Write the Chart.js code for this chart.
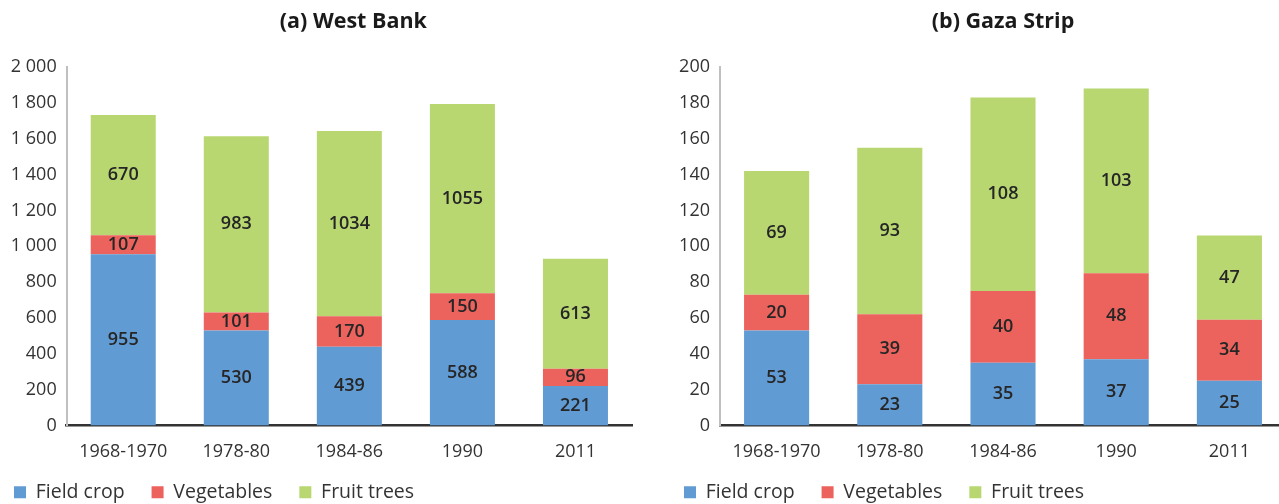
<!DOCTYPE html>
<html>
<head>
<meta charset="utf-8">
<script src="https://cdn.jsdelivr.net/npm/chart.js@4.4.1/dist/chart.umd.min.js"></script>
<style>
  html, body { margin: 0; padding: 0; background: #fff; }
  body { width: 1279px; height: 504px; overflow: hidden; position: relative; }
  canvas { position: absolute; top: 0; }
  #west { left: -13px; }
  #gaza { left: 657px; }
</style>
</head>
<body>
<canvas id="west" width="653" height="512"></canvas>
<canvas id="gaza" width="629" height="512"></canvas>
<script>
// periods on the x axis (same for both panels)
const periods = ['1968-1970', '1978-80', '1984-86', '1990', '2011'];
const series_names = ['Field crop', 'Vegetables', 'Fruit trees'];
const series_colors = ['#619bd3', '#ec635e', '#b8d770'];

// (a) West Bank
const west_field = [955, 530, 439, 588, 221];
const west_veg = [107, 101, 170, 150, 96];
const west_fruit = [670, 983, 1034, 1055, 613];
const west_ticks = [0, 200, 400, 600, 800, 1000, 1200, 1400, 1600, 1800, 2000];

// (b) Gaza Strip
const gaza_field = [53, 23, 35, 37, 25];
const gaza_veg = [20, 39, 40, 48, 34];
const gaza_fruit = [69, 93, 108, 103, 47];
const gaza_ticks = [0, 20, 40, 60, 80, 100, 120, 140, 160, 180, 200];

const FONT = '"Open Sans", "Noto Sans", sans-serif';

// title drawn centered over the plot area, not the canvas
function title_plugin(text, dx) {
  return {
    id: 'panelTitle',
    afterDraw: (chart) => {
      const ctx = chart.ctx;
      const { left, right } = chart.chartArea;
      ctx.save();
      ctx.font = 'bold 21.5px ' + FONT;
      ctx.fillStyle = '#1a1a1a';
      ctx.textAlign = 'center';
      ctx.textBaseline = 'middle';
      ctx.fillText(text, (left + right) / 2 + dx, 22);
      ctx.restore();
    }
  };
}

// value labels in the middle of each segment
const value_labels = {
  id: 'valueLabels',
  afterDatasetsDraw: (chart) => {
    const ctx = chart.ctx;
    ctx.save();
    ctx.font = '600 18px ' + FONT;
    ctx.fillStyle = '#262626';
    ctx.textAlign = 'center';
    ctx.textBaseline = 'middle';
    chart.data.datasets.forEach((ds, i) => {
      const meta = chart.getDatasetMeta(i);
      meta.data.forEach((bar, j) => {
        ctx.fillText(String(ds.data[j]), bar.x, (bar.y + bar.base) / 2);
      });
    });
    ctx.restore();
  }
};

function make_datasets(values) {
  return values.map((v, i) => ({
    label: series_names[i],
    data: v,
    backgroundColor: series_colors[i],
    borderWidth: 0,
    barPercentage: 0.575,
    categoryPercentage: 1
  }));
}

function fmt_thousands(v) {
  return String(v).replace(/\B(?=(\d{3})+(?!\d))/g, ' ');
}

function chart_config(values, ticks, y_width, title, title_dx, pad_right) {
  return {
    type: 'bar',
    data: { labels: periods, datasets: make_datasets(values) },
    options: {
      responsive: false,
      devicePixelRatio: 1,
      animation: false,
      layout: { padding: { top: 67, left: 0, right: pad_right, bottom: 0 } },
      plugins: {
        title: { display: false },
        tooltip: { enabled: false },
        legend: {
          position: 'bottom',
          align: 'start',
          labels: {
            boxWidth: 12,
            boxHeight: 12,
            padding: 27,
            color: '#333',
            font: { family: FONT, size: 19.5 }
          }
        }
      },
      scales: {
        x: {
          stacked: true,
          grid: { display: false, drawTicks: false },
          border: { color: '#333', width: 2.5 },
          ticks: { color: '#333', padding: 16, font: { family: FONT, size: 18 } },
          afterFit: (s) => {
            s.height = 30;
            // the labels hang below this short box, so don't clip them to it
            s._computeLabelArea = () => undefined;
          }
        },
        y: {
          stacked: true,
          min: ticks[0],
          max: ticks[ticks.length - 1],
          grid: { display: false, drawTicks: false },
          border: { color: '#bfbfbf', width: 2 },
          afterBuildTicks: (s) => { s.ticks = ticks.map(v => ({ value: v })); },
          ticks: {
            color: '#333',
            padding: 10,
            font: { family: FONT, size: 18 },
            callback: (v) => fmt_thousands(v)
          },
          afterFit: (s) => { s.width = y_width; }
        }
      }
    },
    plugins: [title_plugin(title, title_dx), value_labels]
  };
}

new Chart(document.getElementById('west'),
  chart_config([west_field, west_veg, west_fruit], west_ticks, 79.7, '(a) West Bank', 4, 8));
new Chart(document.getElementById('gaza'),
  chart_config([gaza_field, gaza_veg, gaza_fruit], gaza_ticks, 63, '(b) Gaza Strip', 0, 0));
</script>
</body>
</html>
